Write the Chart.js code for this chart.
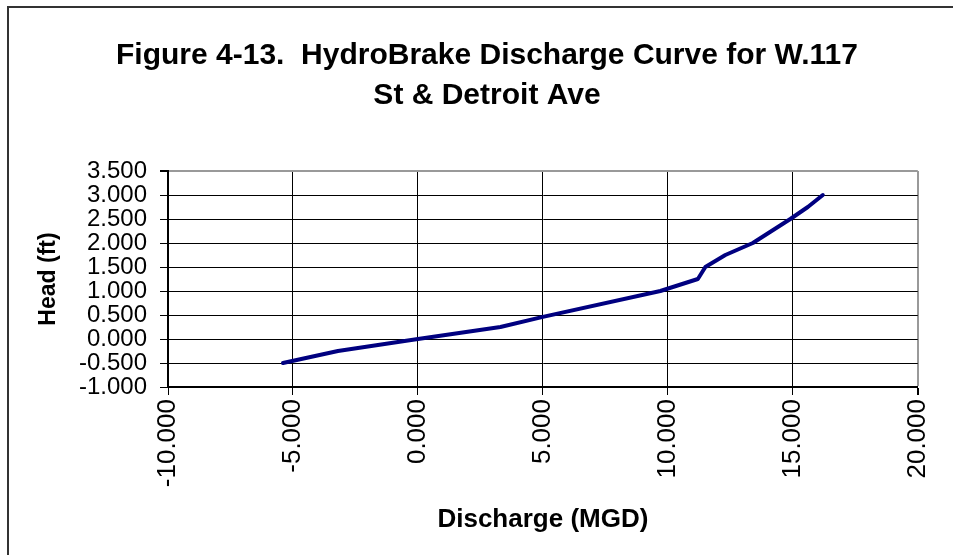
<!DOCTYPE html>
<html>
<head>
<meta charset="utf-8">
<script src="https://cdn.jsdelivr.net/npm/chart.js@4/dist/chart.umd.min.js"></script>
<style>
  html, body { margin: 0; padding: 0; background: #fff; overflow: hidden; }
  #wrap { position: relative; width: 953px; height: 555px; }
  #frame { position: absolute; left: 7px; top: 6px; width: 1000px; height: 600px; border: 2px solid #333; box-sizing: border-box; }
  canvas { position: absolute; left: 0; top: 0; }
</style>
</head>
<body>
<div id="wrap">
  <div id="frame"></div>
  <canvas id="chart" width="953" height="555"></canvas>
</div>
<script>
// discharge (MGD) vs head (ft)
const discharge = [-5.4, -3.2, 0.0, 3.3, 5.0, 9.7, 11.2, 11.5, 12.3, 13.4, 14.9, 15.6, 16.2];
const head      = [-0.5, -0.25, 0.0, 0.25, 0.46, 1.0, 1.25, 1.5, 1.75, 2.0, 2.5, 2.75, 3.0];

const titleLines = ["Figure 4-13.  HydroBrake Discharge Curve for W.117", "St & Detroit Ave"];
const xTitle = "Discharge (MGD)";
const yTitle = "Head (ft)";

const FONT = "'Liberation Sans', Arial, sans-serif";

const points = discharge.map((x, i) => ({ x: x, y: head[i] }));

// title centred on the outer frame rather than the plot
const figTitle = {
  id: "figTitle",
  afterDraw(chart) {
    const ctx = chart.ctx;
    ctx.save();
    ctx.fillStyle = "#000";
    ctx.font = "bold 30px " + FONT;
    ctx.textAlign = "center";
    ctx.textBaseline = "middle";
    titleLines.forEach((line, i) => ctx.fillText(line, 487, 56 + i * 40));
    ctx.restore();
  }
};

function edgeColor(ctx, last) {
  return ctx.index === last ? "#999" : "#000";
}

new Chart(document.getElementById("chart"), {
  type: "line",
  data: {
    datasets: [{
      data: points,
      borderColor: "#000080",
      borderWidth: 4,
      borderCapStyle: "round",
      borderJoinStyle: "round",
      pointRadius: 0,
      tension: 0,
      fill: false
    }]
  },
  options: {
    responsive: false,
    animation: false,
    layout: { padding: { left: 0, right: 30, top: 171, bottom: 0 } },
    plugins: {
      legend: { display: false },
      tooltip: { enabled: false },
      title: { display: false }
    },
    scales: {
      x: {
        type: "linear",
        min: -10,
        max: 20,
        afterFit: s => { s.height = 168; },
        ticks: {
          stepSize: 5,
          color: "#000",
          font: { family: FONT, size: 26 },
          minRotation: 90,
          maxRotation: 90,
          padding: 4,
          callback: v => v.toFixed(3)
        },
        grid: {
          color: ctx => edgeColor(ctx, 6),
          lineWidth: ctx => ctx.index === 6 ? 2 : 1,
          tickColor: "#000",
          tickLength: 8,
          drawTicks: true
        },
        border: { color: "#000", width: 2 },
        title: {
          display: true,
          text: xTitle,
          color: "#000",
          font: { family: FONT, size: 26, weight: "bold" },
          padding: { top: 0, bottom: 20 }
        }
      },
      y: {
        type: "linear",
        min: -1,
        max: 3.5,
        afterFit: s => { s.width = 168; },
        ticks: {
          stepSize: 0.5,
          autoSkip: false,
          color: "#000",
          font: { family: FONT, size: 24, lineHeight: 1 },
          padding: 13,
          callback: v => v.toFixed(3)
        },
        grid: {
          color: ctx => edgeColor(ctx, 9),
          lineWidth: ctx => ctx.index === 9 ? 2 : 1,
          tickColor: "#000",
          tickLength: 8
        },
        border: { color: "#000", width: 2 },
        title: {
          display: true,
          text: yTitle,
          color: "#000",
          font: { family: FONT, size: 23, weight: "bold" },
          padding: { top: 35, bottom: 35 }
        }
      }
    }
  },
  plugins: [figTitle]
});
</script>
</body>
</html>
